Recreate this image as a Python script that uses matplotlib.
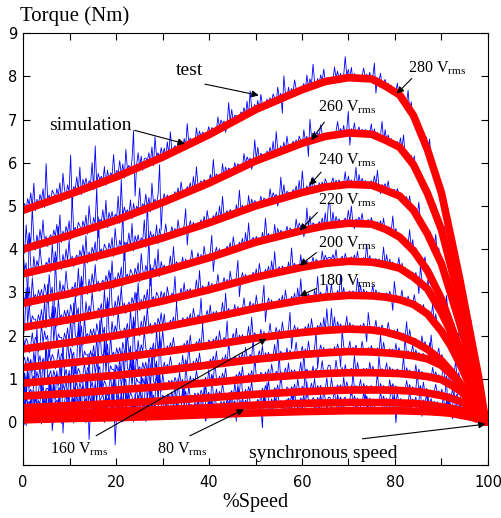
import numpy as np
import matplotlib
matplotlib.use("Agg")
import matplotlib.pyplot as plt

plt.rcParams['mathtext.fontset'] = 'custom'
plt.rcParams['mathtext.rm'] = 'Liberation Serif'
serif = 'Liberation Serif'

# speed points (%) where the simulated curves were read
speed = [0, 10, 20, 30, 40, 50, 60, 65, 70, 75, 78, 81, 84, 87, 90, 92, 94, 96, 98, 99.5]

# simulated torque (Nm), one list per supply voltage, top to bottom
t280 = [4.90, 5.27, 5.67, 6.13, 6.65, 7.23, 7.69, 7.88, 7.97, 7.94, 7.77, 7.57, 7.09, 6.30, 5.30, 4.30, 3.27, 2.15, 1.04, 0]
t260 = [4.00, 4.32, 4.67, 5.08, 5.53, 6.04, 6.45, 6.61, 6.69, 6.66, 6.52, 6.36, 5.95, 5.29, 4.45, 3.61, 2.74, 1.81, 0.87, 0]
t240 = [3.43, 3.68, 3.95, 4.26, 4.61, 5.00, 5.31, 5.44, 5.50, 5.48, 5.36, 5.23, 4.90, 4.35, 3.66, 2.97, 2.26, 1.49, 0.72, 0]
t220 = [2.75, 2.97, 3.21, 3.49, 3.80, 4.16, 4.43, 4.54, 4.60, 4.58, 4.46, 4.28, 3.96, 3.50, 2.85, 2.25, 1.66, 1.01, 0.41, 0]
t200 = [2.19, 2.37, 2.57, 2.80, 3.06, 3.35, 3.58, 3.67, 3.72, 3.70, 3.64, 3.56, 3.35, 3.08, 2.53, 2.09, 1.60, 0.98, 0.40, 0]
t180 = [1.69, 1.84, 2.00, 2.19, 2.40, 2.63, 2.82, 2.89, 2.93, 2.92, 2.89, 2.83, 2.72, 2.50, 2.10, 1.76, 1.34, 0.86, 0.38, 0]
t160 = [1.26, 1.37, 1.48, 1.62, 1.77, 1.94, 2.07, 2.12, 2.15, 2.13, 2.08, 1.99, 1.86, 1.68, 1.42, 1.18, 0.90, 0.55, 0.22, 0]
t140 = [0.90, 0.99, 1.08, 1.19, 1.32, 1.45, 1.56, 1.60, 1.63, 1.62, 1.60, 1.57, 1.53, 1.46, 1.31, 1.11, 0.87, 0.57, 0.15, 0]
t120 = [0.60, 0.66, 0.74, 0.82, 0.91, 1.01, 1.09, 1.12, 1.14, 1.14, 1.13, 1.12, 1.09, 1.05, 0.98, 0.86, 0.72, 0.52, 0.24, 0]
t100 = [0.33, 0.38, 0.43, 0.49, 0.56, 0.64, 0.70, 0.72, 0.74, 0.74, 0.74, 0.73, 0.71, 0.67, 0.61, 0.55, 0.48, 0.36, 0.16, 0]
t90 = [0.18, 0.21, 0.25, 0.29, 0.33, 0.39, 0.43, 0.44, 0.45, 0.45, 0.45, 0.44, 0.43, 0.40, 0.35, 0.32, 0.27, 0.19, 0.09, 0]
t80 = [0.05, 0.08, 0.10, 0.13, 0.17, 0.21, 0.24, 0.25, 0.26, 0.26, 0.26, 0.26, 0.25, 0.24, 0.22, 0.20, 0.16, 0.12, 0.06, 0]
curves = [t280, t260, t240, t220, t200, t180, t160, t140, t120, t100, t90, t80]

# measured trace: ripple codes and the torque offset each code stands for
ripple = ("45364738253647294536" "53647285364915473826" "46354829364537263548"
          "35473628453690473625" "54637284536472839456" "36452739463528374652"
          "47365238475613948365" "53647382954637284536" "46375284609527364853"
          "35462837495263748352")
ripple_nm = [-0.7, -0.3, -0.12, 0.0, 0.08, 0.16, 0.26, 0.38, 0.6, 1.0]

fig = plt.figure(figsize=(5.02, 5.18), dpi=100)
ax = fig.add_axes([0.046, 0.102, 0.926, 0.834])

codes = np.array([int(c) for c in ripple])
lut = np.array(ripple_nm)
bx = np.arange(0, 99.5, 0.33)
env = np.where(bx < 30, 0.9, np.where(bx < 70, 0.5, 0.4))
for i, t in enumerate(curves):
    base = np.interp(bx, speed, t)
    c = np.roll(codes, i * 17)
    c = np.concatenate([c, c[::-1]])[:len(bx)]
    ax.plot(bx, base + lut[c] * env, color='#0000ff', lw=0.6, zorder=1)

for t in curves:
    ax.plot(speed, t, color='#ff0000', lw=5.5, solid_joinstyle='round',
            solid_capstyle='round', zorder=2)

ax.set_xlim(0, 100)
ax.set_ylim(-1, 9)
ax.set_xticks(range(0, 101, 10))
ax.set_xticklabels(['0', '', '20', '', '40', '', '60', '', '80', '', '100'])
ax.set_yticks(range(-1, 10))
ax.set_yticklabels([''] + [str(v) for v in range(0, 10)])
ax.tick_params(direction='in', top=True, right=True, length=5, labelsize=10.5)
ax.tick_params(axis='x', pad=7)
ax.tick_params(axis='y', pad=4)
ax.set_xlabel('%Speed', fontfamily=serif, fontsize=14.5, labelpad=2)
fig.text(0.04, 0.968, 'Torque (Nm)', fontfamily=serif, fontsize=15, va='center')

arrow = dict(arrowstyle='-|>', color='black', lw=0.8, mutation_scale=10,
             shrinkA=0, shrinkB=0)

def note(label, xy, start, text_pos, size):
    ax.annotate('', xy=xy, xytext=start, arrowprops=arrow, zorder=5)
    ax.text(text_pos[0], text_pos[1], label, fontfamily=serif, fontsize=size,
            ha='center', va='center', zorder=5)

note('test', (50.7, 7.56), (39.1, 7.82), (35.7, 8.14), 14)
note('simulation', (34.8, 6.44), (24.0, 6.75), (14.4, 6.87), 14)
note('280 V$_{\\rm rms}$', (80.4, 7.60), (83.6, 7.95), (89.0, 8.19), 11.5)
note('260 V$_{\\rm rms}$', (62.0, 6.52), (64.8, 6.94), (69.8, 7.29), 11.5)
note('240 V$_{\\rm rms}$', (61.6, 5.48), (64.1, 5.78), (69.8, 6.06), 11.5)
note('220 V$_{\\rm rms}$', (59.5, 4.43), (63.3, 4.85), (69.8, 5.13), 11.5)
note('200 V$_{\\rm rms}$', (59.5, 3.62), (63.1, 3.92), (69.8, 4.13), 11.5)
note('180 V$_{\\rm rms}$', (59.5, 2.92), (63.1, 3.09), (69.8, 3.25), 11.5)
note('160 V$_{\\rm rms}$', (52.4, 1.93), (15.7, -0.32), (12.0, -0.63), 11.5)
note('80 V$_{\\rm rms}$', (47.5, 0.29), (35.9, -0.32), (34.3, -0.63), 11.5)
note('synchronous speed', (99.5, -0.05), (73.0, -0.39), (64.5, -0.72), 14)

fig.savefig('out.png', dpi=100)
